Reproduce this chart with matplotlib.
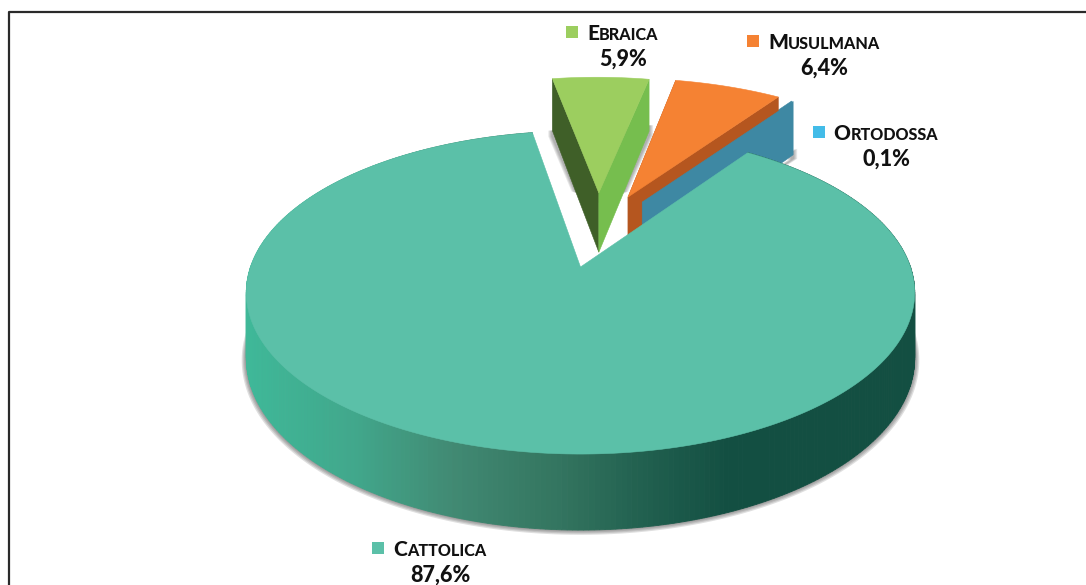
import numpy as np
import matplotlib
matplotlib.use('Agg')
import matplotlib.pyplot as plt
from matplotlib.colors import LinearSegmentedColormap
from matplotlib.patches import Polygon, Rectangle

# data
labels = ['Cattolica', 'Ebraica', 'Musulmana', 'Ortodossa']
values = [87.6, 5.9, 6.4, 0.1]

# slice layout: offset of the exploded slices and their radius
explode_u = [0, 0.06, 0.155, 0.20]
explode_v = [0, 0.508, 0.478, 0.441]
radius = [1, 0.98, 1.0, 1.0]
top_colors = ['#5BC0A8', '#9CCE5F', '#F58233', '#43BCE8']
left_colors = ['#5BC0A8', '#3F5F28', '#B5561F', '#3E88A3']
right_colors = ['#5BC0A8', '#76BE4E', '#B5561F', '#3E88A3']
label_x = [440, 623, 824, 886]
label_y = [550, 34, 43, 134]
square_colors = ['#5BC0A8', '#9CCE5F', '#F58233', '#43BCE8']

# projection of the pie
CX, CY, RX, RY, P, H = 580.5, 267, 330, 157.5, 0.158, 64
START = 350.3

side_cmap = LinearSegmentedColormap.from_list(
    'side', [(0, '#3FB898'), (0.21, '#41A88C'), (0.42, '#418A73'),
             (0.65, '#33745F'), (0.83, '#205F4E'), (1, '#134F42')])


def proj(u, v, z=0.0):
    k = 1 / (1 + P * v)
    return CX + RX * u * k, CY - RY * v * k + H * z * k


def ring(a0, a1, n, r=1.0, du=0.0, dv=0.0, z=0.0):
    t = np.radians(np.linspace(a0, a1, n))
    x, y = proj(du + r * np.sin(t), dv + r * np.cos(t), z)
    return np.column_stack([x, y])


fig = plt.figure(figsize=(10.86, 5.85), dpi=100)
ax = fig.add_axes([0, 0, 1, 1])
ax.set_xlim(0, 1086)
ax.set_ylim(585, 0)
ax.axis('off')

# frame of the page: only the top and left lines are in the crop
ax.plot([9, 9, 1086], [585, 12, 12], color='#2a2a2a', lw=1.6)

# angles go clockwise from the top of the pie
spans = []
a = START
for i in [1, 2, 3]:
    sweep = values[i] / sum(values) * 360
    spans.append((i, a, a + sweep))
    a += sweep
cat_start = a
cat_end = START + 360

# exploded slices, back to front
for i, a0, a1 in spans:
    du, dv, r = explode_u[i], explode_v[i], radius[i]
    arc_top = ring(a0, a1, 30, r, du, dv)
    apex = np.array(proj(du, dv))
    apex_low = np.array(proj(du, dv, 1))
    left_top = np.array(proj(du + r * np.sin(np.radians(a0)), dv + r * np.cos(np.radians(a0))))
    left_low = np.array(proj(du + r * np.sin(np.radians(a0)), dv + r * np.cos(np.radians(a0)), 1))
    right_top = np.array(proj(du + r * np.sin(np.radians(a1)), dv + r * np.cos(np.radians(a1))))
    right_low = np.array(proj(du + r * np.sin(np.radians(a1)), dv + r * np.cos(np.radians(a1)), 1))
    # soft shadow under the slice, kept off the white notch
    for s in [4, 3, 2, 1]:
        pts = np.array([left_low + [-s, 0], left_low + [-s, 6],
                        (left_low + apex_low) / 2 + [-s, 0], apex + [0, 10],
                        (right_low + apex_low) / 2 + [s, 0], right_low + [s, 4],
                        right_low + [s, -6]])
        ax.add_patch(Polygon(pts, closed=True, fc='#555555', ec='none', alpha=0.14, zorder=2))
    ax.add_patch(Polygon([apex, left_top, left_low, apex_low], closed=True,
                         fc=left_colors[i], ec=left_colors[i], lw=0.4, zorder=3))
    ax.add_patch(Polygon([apex, right_top, right_low, apex_low], closed=True,
                         fc=right_colors[i], ec=right_colors[i], lw=0.4, zorder=3 + i * 0.1))
    if values[i] > 1:
        ax.add_patch(Polygon(np.vstack([apex, arc_top]), closed=True,
                             fc=top_colors[i], ec=top_colors[i], lw=0.4, zorder=3.2))

# shadow under the big slice
for s in [4, 3, 2, 1]:
    pts = ring(80, 280, 200, 1 + s / 330, 0, -s / 500, 1)
    ax.add_patch(Polygon(pts, closed=True, fc='#444444', ec='none', alpha=0.17, zorder=4))

# side of the big slice, a thin strip per step so the shading follows x
t0 = ring(cat_start, cat_end, 400)
t1 = ring(cat_start, cat_end, 400, z=1)
for j in range(len(t0) - 1):
    xm = (t0[j, 0] + t0[j + 1, 0]) / 2
    c = side_cmap(np.clip((xm - 250) / 480, 0, 1))
    ax.add_patch(Polygon([t0[j], t0[j + 1], t1[j + 1], t1[j]], closed=True,
                         fc=c, ec=c, lw=0.6, zorder=5))

apex = np.array(proj(0, 0))
ax.add_patch(Polygon(np.vstack([apex, ring(cat_start, cat_end, 400)]), closed=True,
                     fc=top_colors[0], ec=top_colors[0], lw=0.4, zorder=6))

# labels, small caps built from two text pieces
font = {'family': 'Lato', 'weight': 'black', 'color': '#111111'}
big = 15
small = 11.6
for name, v, x, y, c in zip(labels, values, label_x, label_y, square_colors):
    up = name.upper()
    fig.canvas.draw()
    renderer = fig.canvas.get_renderer()
    w = ax.text(0, 0, up[1:], fontsize=small, **font)
    small_w = w.get_window_extent(renderer).width
    w.remove()
    h = ax.text(0, 0, up[0], fontsize=big, **font)
    big_w = h.get_window_extent(renderer).width
    h.remove()
    x0 = x - (small_w + big_w) / 2
    ax.text(x0, y + 6, up[0], fontsize=big, ha='left', va='baseline', zorder=8, **font)
    ax.text(x0 + big_w, y + 6, up[1:], fontsize=small, ha='left', va='baseline', zorder=8, **font)
    ax.add_patch(Rectangle((x0 - 21, y - 8), 12, 12, fc=c, ec='none', zorder=8))
    ax.text(x, y + 25, ('%.1f%%' % v).replace('.', ','), fontsize=15.5, ha='center',
            va='center', zorder=8, **font)

fig.savefig('out.png', dpi=100)
